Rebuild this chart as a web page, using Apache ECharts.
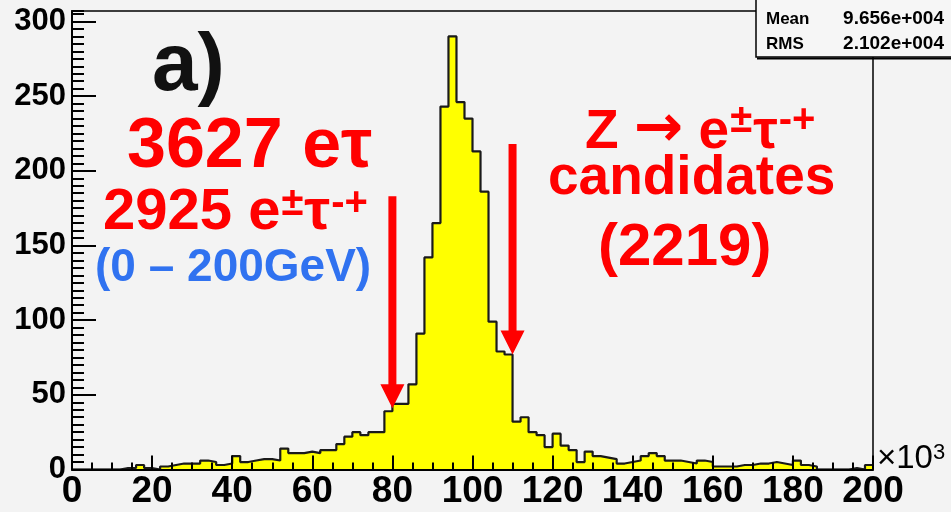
<!DOCTYPE html>
<html>
<head>
<meta charset="utf-8">
<script src="https://cdn.jsdelivr.net/npm/echarts@6/dist/echarts.min.js"></script>
<style>
  html, body { margin: 0; padding: 0; background: #f3f3f3; }
  #chart { width: 951px; height: 512px; }
</style>
</head>
<body>
<div id="chart"></div>
<script>
// Invariant-mass histogram (x in units of 10^3), 2k-wide bins from 0 to 200
const binLow = 0;
const binWidth = 2;
const binCounts = [
  0, 0, 0, 0, 0, 0, 1, 1, 3, 1,
  0, 2, 3, 4, 4, 4, 6, 5, 3, 4,
  9, 5, 6, 7, 7, 6, 14, 11, 11, 12,
  11, 13, 13, 17, 22, 25, 23, 25, 25, 39,
  44, 44, 57, 91, 142, 165, 243, 290, 246, 235,
  213, 186, 99, 79, 77, 32, 35, 25, 23, 15,
  24, 16, 13, 5, 12, 9, 8, 7, 4, 5,
  6, 9, 11, 9, 6, 6, 5, 4, 6, 5,
  2, 2, 2, 3, 3, 4, 4, 5, 4, 3,
  6, 3, 2, 0, 0, 0, 0, 1, 0, 3
];

// Axis ranges
const xMin = 0, xMax = 200, xStep = 20;
const yMin = 0, yMax = 307, yStep = 50;

// Stats box entries
const statNames = ['Entries', 'Mean', 'RMS'];
const statValues = ['2925', '9.656e+004', '2.102e+004'];

// Arrows marking the selection window: x position, tip value, tail value
const arrowX = [80, 110];
const arrowTip = [41, 77];
const arrowTail = [183, 218];

const stepData = binCounts.map((c, i) => [binLow + i * binWidth, c]);
stepData.push([xMax, binCounts[binCounts.length - 1]]);

const FONT = '"Liberation Sans", Arial, sans-serif';
const RED = '#ff0000';
const BLUE = '#3072f0';

const chart = echarts.init(document.getElementById('chart'), null, { renderer: 'canvas' });

const chargeRich = (size, supSize) => ({
  n: { fontFamily: FONT, fontWeight: 'bold', fontSize: size, fill: RED, verticalAlign: 'bottom' },
  a: { fontFamily: '"DejaVu Sans", sans-serif', fontWeight: 'bold', fontSize: size + 4, fill: RED, verticalAlign: 'bottom' },
  s: { fontFamily: FONT, fontWeight: 'bold', fontSize: supSize, fill: RED, verticalAlign: 'top', padding: [0, 1, 0, 1] }
});

const option = {
  backgroundColor: '#f3f3f3',
  animation: false,
  grid: {
    left: 72, right: 78, top: 11, bottom: 42.5,
    show: true, borderColor: '#000', borderWidth: 1.5, backgroundColor: 'transparent'
  },
  xAxis: {
    type: 'value', min: xMin, max: xMax, interval: xStep, z: 10,
    axisLine: { show: true, onZero: false, lineStyle: { color: '#000', width: 2 } },
    axisTick: { show: true, inside: true, length: 14, lineStyle: { color: '#000', width: 2 } },
    minorTick: { show: true, splitNumber: 4, length: 7, lineStyle: { color: '#000', width: 2 } },
    splitLine: { show: false },
    axisLabel: { color: '#000', fontFamily: FONT, fontWeight: 'bold', fontSize: 37, margin: 4 }
  },
  yAxis: [
    {
      type: 'value', min: yMin, max: yMax, interval: yStep, z: 10,
      axisLine: { show: true, lineStyle: { color: '#000', width: 2 } },
      axisTick: { show: true, inside: true, length: 24, lineStyle: { color: '#000', width: 2 } },
      splitLine: { show: false },
      axisLabel: { color: '#000', fontFamily: FONT, fontWeight: 'bold', fontSize: 31, margin: 6, showMaxLabel: false }
    },
    {
      type: 'value', min: yMin, max: yMax, interval: 5, position: 'left', z: 9,
      axisLine: { show: false },
      axisTick: { show: true, inside: true, length: 12, lineStyle: { color: '#000', width: 2 } },
      splitLine: { show: false },
      axisLabel: { show: false }
    }
  ],
  series: [
    {
      type: 'line', step: 'end', data: stepData, showSymbol: false, z: 2,
      lineStyle: { color: '#1a1a1a', width: 2.2 },
      areaStyle: { color: '#ffff00', opacity: 1 }
    },
    {
      type: 'custom', z: 20, clip: false,
      data: arrowX.map((x, i) => [x, arrowTip[i], arrowTail[i]]),
      encode: { x: 0, y: [1, 2] },
      renderItem(params, api) {
        const tip = api.coord([api.value(0), api.value(1)]);
        const tail = api.coord([api.value(0), api.value(2)]);
        const hw = 4, headW = 12, headL = 24;
        const cx = tip[0];
        return {
          type: 'polygon',
          shape: { points: [
            [cx - hw, tail[1]], [cx + hw, tail[1]], [cx + hw, tip[1] - headL],
            [cx + headW, tip[1] - headL], [cx, tip[1]], [cx - headW, tip[1] - headL],
            [cx - hw, tip[1] - headL]
          ] },
          style: { fill: RED }
        };
      }
    }
  ],
  graphic: [
    // statistics box
    {
      type: 'group', z: 50,
      children: [
        { type: 'rect', shape: { x: 756, y: -10, width: 200, height: 67 },
          style: { fill: '#f6f6f6', stroke: '#000', lineWidth: 1.5 } },
        { type: 'line', shape: { x1: 757, y1: 58.5, x2: 951, y2: 58.5 },
          style: { stroke: '#000', lineWidth: 2 } },
        ...statNames.map((n, i) => ({
          type: 'text', style: { x: 766, y: -6 + i * 25, text: n, fill: '#000',
            font: 'bold 17px ' + FONT, verticalAlign: 'middle', align: 'left' }
        })),
        ...statValues.map((v, i) => ({
          type: 'text', style: { x: 944, y: -6 + i * 25, text: v, fill: '#000',
            font: 'bold 19px ' + FONT, verticalAlign: 'middle', align: 'right' }
        }))
      ]
    },
    // axis multiplier
    {
      type: 'text', z: 50,
      style: {
        x: 877, y: 442, text: '{m|×10}{s|3}',
        rich: {
          m: { fontFamily: FONT, fontSize: 33, fill: '#000', verticalAlign: 'bottom' },
          s: { fontFamily: FONT, fontSize: 22, fill: '#000', verticalAlign: 'top' }
        }
      }
    },
    // panel label
    { type: 'text', z: 50,
      style: { x: 152, y: 26, text: 'a)', font: 'bold 82px ' + FONT, fill: '#111' } },
    // left annotation block
    { type: 'text', z: 50,
      style: { x: 127, y: 113, text: '3627 eτ', font: 'bold 70px ' + FONT, fill: RED } },
    { type: 'text', z: 50,
      style: { x: 103, y: 184, text: '{n|2925 e}{s|±}{n|τ}{s|-+}', rich: chargeRich(58, 40) } },
    { type: 'text', z: 50,
      style: { x: 95, y: 245, text: '(0 – 200GeV)', font: 'bold 46px ' + FONT, fill: BLUE } },
    // right annotation block
    { type: 'text', z: 50,
      style: { x: 585, y: 101, text: '{n|Z }{a|→}{n| e}{s|±}{n|τ}{s|-+}', rich: chargeRich(55, 40) } },
    { type: 'text', z: 50,
      style: { x: 548, y: 151, text: 'candidates', font: 'bold 55px ' + FONT, fill: RED } },
    { type: 'text', z: 50,
      style: { x: 598, y: 218, text: '(2219)', font: 'bold 60px ' + FONT, fill: RED } }
  ]
};

chart.setOption(option);
</script>
</body>
</html>
